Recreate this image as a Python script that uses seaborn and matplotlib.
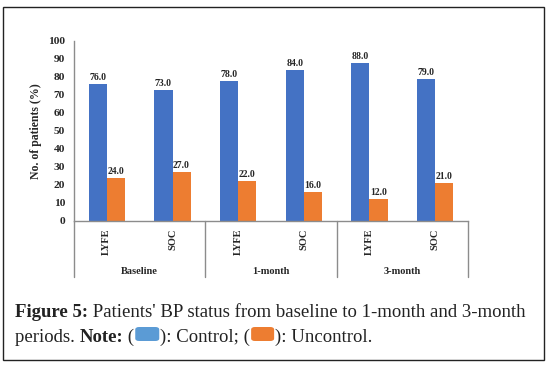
import numpy as np
import pandas as pd
import matplotlib
matplotlib.use('Agg')
import matplotlib.pyplot as plt
import seaborn as sns
from matplotlib.patches import Rectangle, FancyBboxPatch

# ------------------------
# data
# ------------------------
periods = ['Baseline', '1-month', '3-month']
arms = ['LYFE', 'SOC']
control = [76.0, 73.0, 78.0, 84.0, 88.0, 79.0]
uncontrol = [24.0, 27.0, 22.0, 16.0, 12.0, 21.0]
status_names = ['Control', 'Uncontrol']
yticks = list(range(0, 101, 10))

keys = [f"{p}|{a}" for p in periods for a in arms]
df = pd.DataFrame({
    'key': keys * 2,
    'value': control + uncontrol,
    'status': [status_names[0]] * len(keys) + [status_names[1]] * len(keys),
})

sns.set_style('white')
plt.rcParams['font.family'] = ['Liberation Serif', 'DejaVu Serif']

fig = plt.figure(figsize=(5.46, 3.66), dpi=100)
ax = fig.add_axes([74 / 546, 1 - 221 / 366, 394 / 546, 180 / 366])

sns.barplot(data=df, x='key', y='value', hue='status', order=keys,
            palette=['#4472C4', '#ED7D31'], width=0.55, saturation=1, ax=ax,
            edgecolor='none', linewidth=0, legend=False)

for cont in ax.containers:
    ax.bar_label(cont, fmt='%.1f', fontsize=7, fontweight='bold', padding=1.5)

ax.set_ylim(0, 100)
ax.set_xlim(-0.5, len(keys) - 0.5)
ax.set_yticks(yticks)
ax.set_yticklabels([str(t) for t in yticks], fontsize=8.2, fontweight='bold')
ax.tick_params(axis='y', length=0, pad=6.5)
ax.set_ylabel('No. of patients (%)', fontsize=8.5, fontweight='bold', labelpad=4)
ax.set_xlabel('')
ax.set_xticks([])

for s in ['top', 'right']:
    ax.spines[s].set_visible(False)
for s in ['left', 'bottom']:
    ax.spines[s].set_color('#8c8c8c')
    ax.spines[s].set_linewidth(1.0)

# hierarchical category axis
trans = ax.get_xaxis_transform()
for i, k in enumerate(keys):
    ax.text(i, -0.04, k.split('|')[1], transform=trans, rotation=90,
            ha='center', va='top', fontsize=7.5, fontweight='bold')
for j, p in enumerate(periods):
    ax.text(j * 2 + 0.5, -0.278, p, transform=trans, ha='center', va='center',
            fontsize=7.5, fontweight='bold')
for j in range(len(periods) + 1):
    ax.plot([j * 2 - 0.5] * 2, [0, -0.31], transform=trans, color='#8c8c8c',
            lw=1.0, clip_on=False)

# outer frame
fig.patches.append(Rectangle((3 / 546, 1 - 360 / 366), 541 / 546, 353 / 366,
                             transform=fig.transFigure, fill=False,
                             edgecolor='#222222', lw=1.0))

# caption
renderer = fig.canvas.get_renderer()
cap_size = 13.5
col = '#222222'


def put_row(pieces, x0, y0):
    x = x0
    out = []
    for txt, w in pieces:
        if txt is None:
            out.append((x, w))
            x += w[0] + 2
            continue
        t = fig.text(x / 546, 1 - y0 / 366, txt, fontsize=cap_size,
                     fontweight=w, color=col, ha='left', va='baseline')
        bb = t.get_window_extent(renderer)
        x = bb.x1
    return out


put_row([('Figure 5:', 'bold'),
         (" Patients' BP status from baseline to 1-month and 3-month", 'normal')],
        15, 317)

row2 = [('periods. ', 'normal'), ('Note:', 'bold'), (' (', 'normal'),
        (None, (24, '#5B9BD5')), ('): Control; (', 'normal'),
        (None, (23, '#ED7D31')), ('): Uncontrol.', 'normal')]
sw = put_row(row2, 15, 342)
for x, (w, c) in sw:
    fig.patches.append(FancyBboxPatch(((x + 1) / 546, 1 - 341 / 366), w / 546, 14 / 366,
                                      boxstyle='round,pad=0,rounding_size=0.007',
                                      transform=fig.transFigure, facecolor=c,
                                      edgecolor='none'))

fig.savefig('out.png', dpi=100)
